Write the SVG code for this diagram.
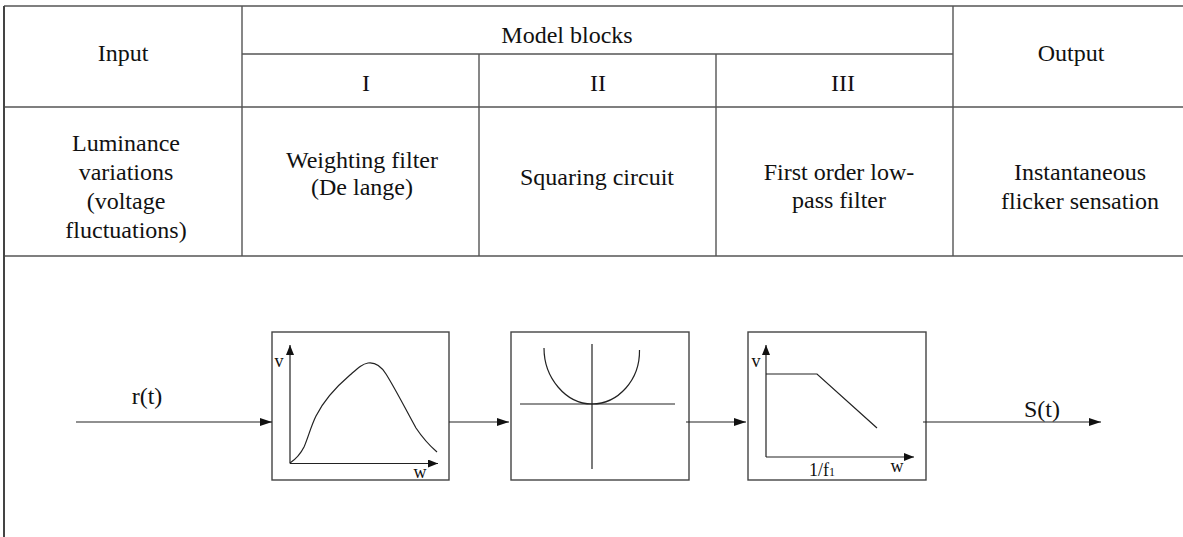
<svg xmlns="http://www.w3.org/2000/svg" width="1183" height="537" viewBox="0 0 1183 537">
<defs>
<style>
.t{font-family:"Liberation Serif","Times New Roman",serif;font-size:24px;fill:#111;text-anchor:middle}
.s{font-family:"Liberation Serif","Times New Roman",serif;font-size:18px;fill:#111;text-anchor:middle}
.grid{stroke:#555;stroke-width:1.4;fill:none}
.box{stroke:#444;stroke-width:1.4;fill:#fff}
.ln{stroke:#222;stroke-width:1.2;fill:none}
.ax{stroke:#222;stroke-width:1.2;fill:none;marker-end:url(#ah)}
.conn{stroke:#222;stroke-width:1.2;fill:none;marker-end:url(#arr)}
</style>
<marker id="arr" viewBox="0 0 12 8" refX="12" refY="4" markerWidth="12" markerHeight="8" markerUnits="userSpaceOnUse" orient="auto"><path d="M0,0 L12,4 L0,8 z" fill="#111"/></marker>
<marker id="ah" viewBox="0 0 10 8" refX="10" refY="4" markerWidth="10" markerHeight="8" markerUnits="userSpaceOnUse" orient="auto"><path d="M0,0 L10,4 L0,8 z" fill="#111"/></marker>
</defs>
<rect width="1183" height="537" fill="#fff"/>
<g id="table">
<path class="grid" d="M4,6 H1183 M242,54 H953 M4,107 H1183 M4,256 H1183"/>
<path class="grid" d="M242,6 V256 M953,6 V256 M479,54 V256 M716,54 V256"/>
<path d="M4,6 V537" stroke="#444" stroke-width="2" fill="none"/>
</g>
<g id="header">
<text class="t" x="123" y="61">Input</text>
<text class="t" x="567" y="43">Model blocks</text>
<text class="t" x="366" y="91">I</text>
<text class="t" x="598" y="91">II</text>
<text class="t" x="843" y="91">III</text>
<text class="t" x="1071" y="61">Output</text>
</g>
<g id="descriptions">
<text class="t" x="126" y="151">Luminance</text>
<text class="t" x="126" y="180">variations</text>
<text class="t" x="126" y="209">(voltage</text>
<text class="t" x="126" y="238">fluctuations)</text>
<text class="t" x="362" y="168">Weighting filter</text>
<text class="t" x="362" y="195">(De lange)</text>
<text class="t" x="597" y="185">Squaring circuit</text>
<text class="t" x="839" y="180">First order low-</text>
<text class="t" x="839" y="208">pass filter</text>
<text class="t" x="1080" y="180">Instantaneous</text>
<text class="t" x="1080" y="209">flicker sensation</text>
</g>
<g id="block1">
<rect class="box" x="272" y="332" width="177" height="148"/>
<path class="ax" d="M290,463.5 V345"/>
<path class="ax" d="M290,463.5 H438"/>
<path class="ln" d="M290,463 C296,459 300,455 304,447 C308,438 311,426 316,416 C324,400 336,387 350,375 C358,368 362,364 368,363 C375,362 381,366 386,374 C396,390 406,410 416,428 C424,440 430,446 437,452"/>
<text class="s" x="279" y="367">v</text>
<text class="s" x="420" y="478">w</text>
</g>
<g id="block2">
<rect class="box" x="511" y="332" width="178" height="148"/>
<path class="ln" d="M592,344 V469"/>
<path class="ln" d="M520,404 H675"/>
<path class="ln" d="M544,348 C544,378 566,404 592,404 C618,404 640,380 639.5,350"/>
</g>
<g id="block3">
<rect class="box" x="748" y="332" width="178" height="148"/>
<path class="ax" d="M766,457 V345"/>
<path class="ax" d="M766,457 H914"/>
<path class="ln" d="M766,374 H817 L877,428"/>
<text class="s" x="756" y="367">v</text>
<text class="s" x="822" y="476">1/f<tspan font-size="12">1</tspan></text>
<text class="s" x="897" y="472">w</text>
</g>
<g id="connectors">
<path class="conn" d="M76,422 H272"/>
<path class="conn" d="M449,422 H509"/>
<path class="conn" d="M686,422 H746"/>
<path class="conn" d="M923,422 H1101"/>
</g>
<g id="labels">
<text class="t" x="147" y="404">r(t)</text>
<text class="t" x="1042" y="417">S(t)</text>
</g>
</svg>
